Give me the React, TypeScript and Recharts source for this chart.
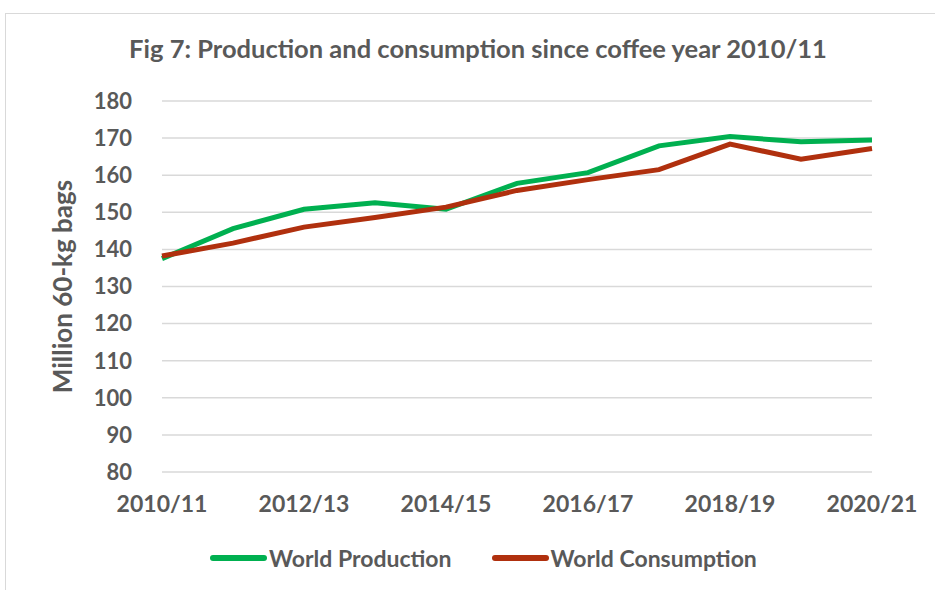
import { LineChart, Line, XAxis, YAxis, CartesianGrid } from 'recharts';

const years = [
  '2010/11', '2011/12', '2012/13', '2013/14', '2014/15', '2015/16',
  '2016/17', '2017/18', '2018/19', '2019/20', '2020/21',
];
const production = [137.5, 145.6, 150.8, 152.6, 150.8, 157.8, 160.7, 167.9, 170.4, 169.0, 169.5];
const consumption = [138.2, 141.7, 146.0, 148.6, 151.4, 155.9, 158.8, 161.5, 168.4, 164.3, 167.2];
const yTicks = [80, 90, 100, 110, 120, 130, 140, 150, 160, 170, 180];

const GREEN = '#00B050';
const RED = '#B0300E';
const TEXT = '#595959';
const FONT = 'Lato, "Open Sans", sans-serif';

const data = years.map((year, i) => ({
  year,
  production: production[i],
  consumption: consumption[i],
}));

function YLabel(props: any) {
  const vb = props.viewBox || {};
  const cx = 62;
  const cy = vb.y + vb.height / 2;
  return (
    <text
      x={cx}
      y={cy}
      transform={`rotate(-90, ${cx}, ${cy})`}
      textAnchor="middle"
      dominantBaseline="central"
      fill={TEXT}
      fontSize={26}
      fontWeight={700}
      fontFamily={FONT}
    >
      Million 60-kg bags
    </text>
  );
}

function LegendItem({ color, label }: { color: string; label: string }) {
  return (
    <div style={{ display: 'flex', alignItems: 'center' }}>
      <span
        style={{
          display: 'inline-block',
          width: 57,
          height: 6,
          borderRadius: 3,
          background: color,
          marginRight: 2,
        }}
      />
      <span>{label}</span>
    </div>
  );
}

export default function App() {
  return (
    <div
      style={{
        position: 'absolute',
        left: 0,
        top: 0,
        width: 935,
        height: 590,
        background: '#fff',
        fontFamily: FONT,
        overflow: 'hidden',
      }}
    >
      {/* outer chart frame */}
      <div
        style={{
          position: 'absolute',
          left: 5,
          top: 13,
          width: 940,
          height: 600,
          borderLeft: '1.5px solid #D9D9D9',
          borderTop: '1.5px solid #D9D9D9',
        }}
      />
      <div
        style={{
          position: 'absolute',
          left: 0,
          top: 33,
          width: 956,
          textAlign: 'center',
          fontSize: 25.5,
          fontWeight: 700,
          color: TEXT,
        }}
      >
        Fig 7: Production and consumption since coffee year 2010/11
      </div>

      <div style={{ position: 'absolute', left: 0, top: 0 }}>
        <LineChart
          width={935}
          height={590}
          data={data}
          margin={{ top: 101, right: 63, left: 0, bottom: 78 }}
        >
          <CartesianGrid vertical={false} stroke="#D9D9D9" strokeWidth={1.5} />
          <XAxis
            dataKey="year"
            interval={1}
            height={40}
            tickLine={false}
            axisLine={false}
            tickSize={0}
            tickMargin={24}
            tick={{ fontSize: 23, fontWeight: 700, fill: TEXT, fontFamily: FONT }}
          />
          <YAxis
            width={162}
            domain={[80, 180]}
            ticks={yTicks}
            tickLine={false}
            axisLine={false}
            tickSize={0}
            tickMargin={30}
            tick={{ fontSize: 22, fontWeight: 700, fill: TEXT, fontFamily: FONT }}
            label={<YLabel />}
          />
          <Line
            dataKey="production"
            name="World Production"
            stroke={GREEN}
            strokeWidth={5}
            dot={false}
            isAnimationActive={false}
          />
          <Line
            dataKey="consumption"
            name="World Consumption"
            stroke={RED}
            strokeWidth={5}
            dot={false}
            isAnimationActive={false}
          />
        </LineChart>
      </div>

      <div
        style={{
          position: 'absolute',
          left: 210,
          top: 544,
          display: 'flex',
          gap: 40,
          fontSize: 23,
          fontWeight: 700,
          color: TEXT,
        }}
      >
        <LegendItem color={GREEN} label="World Production" />
        <LegendItem color={RED} label="World Consumption" />
      </div>
    </div>
  );
}
